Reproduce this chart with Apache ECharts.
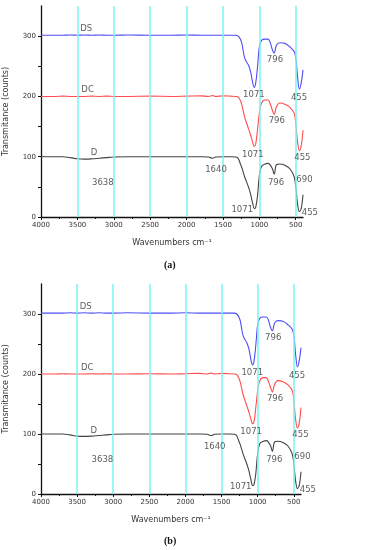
<!DOCTYPE html>
<html><head><meta charset="utf-8">
<script src="https://cdn.jsdelivr.net/npm/echarts@6/dist/echarts.min.js"></script>
<style>html,body{margin:0;padding:0;background:#fff}#c{width:365px;height:550px}</style>
</head><body><div id="c"></div><script>
// ---- data ----
const wavenumbers = [4000,3800,3700,3600,3500,3400,3300,3200,3100,3000,2800,2500,2200,2000,1800,1700,1640,1600,1500,1400,1320,1290,1260,1240,1200,1150,1120,1090,1071,1050,1025,1000,970,920,880,855,820,796,765,720,650,580,520,495,475,450,425,400];
const dsValues = [301.5,301.5,301.5,302,301.5,302,301.5,302,301.5,301.5,302,301.5,301.5,302,301.5,301.5,301.5,301.5,301.5,301.5,301.5,300,295,288,263,252,241,222,215,222,249,282,293,295,295,291,277,272,285,289,288,282,274,260,233,212,222,244];
const dcValues = [200,200,200.5,200,200,200,200.5,200,200.5,200,200,200.5,200,200.5,201,200,201.5,200,201,200.5,200,199,193,186,165,147,136,123,117,121,145,172,189,194,194,189,177,170,183,189,187,182,172,150,125,110,118,144];
const dValues = [100,100,100,98.5,96.5,96,96.5,97.5,98.5,99.5,100,100,100,100,100,99.5,97.5,99.5,100,100,99.5,97,88,82,66,50,38,22,14,16,35,68,84,88,89,87,80,71,87,88,86,80,66,45,22,9,14,37];
const seriesNames = ['DS','DC','D'];
const xTickLabels = [500,1000,1500,2000,2500,3000,3500,4000];
const xMinorTicks = [750,1250,1750,2250,2750,3250,3750];
const yTickLabels = [0,100,200,300];
const yTicks = [0,50,100,150,200,250,300];
const gridWavenumbers = [500,1000,1500,2000,2500,3000,3500];
// [text, wavenumber, transmittance]
const peakLabels = [
  ['DS',3380,312],['DC',3360,211],['D',3270,106],['3638',3150,57],['1640',1595,78],
  ['1071',1075,202],['796',785,260],['455',455,197],
  ['1071',1090,103],['796',760,159],['455',408,98],
  ['1071',1235,12],['796',770,57],['690',380,62],['455',305,7]
];
const panelLabels = ['(a)','(b)'];

// ---- chart ----
const colors = ['#4d4df5','#ff4d4d','#444444'];
const FONT = 'DejaVu Sans';
const gridsPos = [{left:41, top:6, width:262, height:211},{left:41, top:284, width:260, height:210}];
const allValues = [dsValues, dcValues, dValues];

const grid = [], xAxis = [], yAxis = [], series = [];
gridsPos.forEach((g, gi) => {
  grid.push(Object.assign({containLabel:false, outerBoundsMode:'none'}, g));
  xAxis.push({
    type:'value', gridIndex:gi, min:400, max:4000, inverse:true,
    name:'Wavenumbers cm\u207B\u00B9', nameLocation:'middle', nameGap:22,
    nameTextStyle:{fontFamily:FONT, fontSize:8, color:'#333'},
    axisLine:{lineStyle:{color:'#111', width:1.3}},
    axisTick:{customValues:xTickLabels, length:3, lineStyle:{color:'#111'}},
    axisLabel:{customValues:xTickLabels, formatter:v=>String(v), fontFamily:FONT, fontSize:7, color:'#333', margin:5},
    splitLine:{show:false}
  });
  xAxis.push({
    type:'value', gridIndex:gi, min:400, max:4000, inverse:true, position:'bottom',
    axisLine:{show:false},
    axisTick:{customValues:xMinorTicks, length:2, lineStyle:{color:'#111'}},
    axisLabel:{show:false}, splitLine:{show:false}
  });
  yAxis.push({
    type:'value', gridIndex:gi, min:0, max:350,
    name:'Transmitance (counts)', nameLocation:'middle', nameGap:31,
    nameTextStyle:{fontFamily:FONT, fontSize:8, color:'#333'},
    axisLine:{show:true, lineStyle:{color:'#111', width:1.3}},
    axisTick:{show:true, customValues:yTicks, length:3, lineStyle:{color:'#111'}},
    axisLabel:{customValues:yTickLabels, formatter:v=>String(v), fontFamily:FONT, fontSize:7, color:'#333', margin:5},
    splitLine:{show:false}
  });
  allValues.forEach((vals, si) => {
    series.push({
      type:'line', name:seriesNames[si], xAxisIndex:gi*2, yAxisIndex:gi,
      data: wavenumbers.map((w,i)=>[w, vals[i]]),
      showSymbol:false, smooth:0.35, z:2,
      lineStyle:{color:colors[si], width:1.1}
    });
  });
  series.push({
    type:'line', xAxisIndex:gi*2, yAxisIndex:gi, data:[], z:4, silent:true,
    markLine:{silent:true, symbol:['none','none'], label:{show:false},
      lineStyle:{color:'#7df3f3', width:1.5, type:'solid'},
      data: gridWavenumbers.map(v=>({xAxis:v}))}
  });
  series.push({
    type:'scatter', xAxisIndex:gi*2, yAxisIndex:gi, clip:false, z:6, silent:true,
    symbolSize:1, itemStyle:{color:'rgba(0,0,0,0)'},
    data: peakLabels.map(p=>[p[1], p[2], p[0]]),
    label:{show:true, position:'inside', formatter:p=>p.data[2],
      fontFamily:FONT, fontSize:8.5, color:'#333'}
  });
});

const chart = echarts.init(document.getElementById('c'), null, {renderer:'canvas'});
chart.setOption({
  animation:false,
  backgroundColor:'#fff',
  grid, xAxis, yAxis, series,
  graphic:[
    {type:'text', left:164, top:260, style:{text:panelLabels[0], font:'bold 10px "Liberation Serif"', fill:'#111'}},
    {type:'text', left:164, top:536, style:{text:panelLabels[1], font:'bold 10px "Liberation Serif"', fill:'#111'}}
  ]
});
</script></body></html>
